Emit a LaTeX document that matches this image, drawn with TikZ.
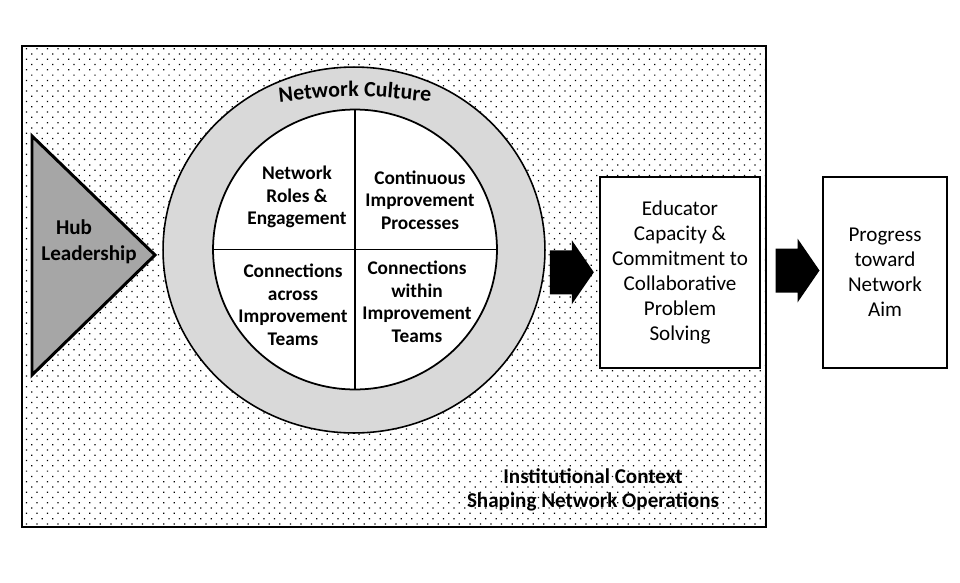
\documentclass[tikz,border=0pt]{standalone}
\usepackage{fontspec}
\setmainfont{Carlito}
\usepackage{xcolor}
\usepackage{tikz}
\usetikzlibrary{shapes.geometric,patterns.meta,decorations.text,calc}
\definecolor{hubgray}{HTML}{A6A6A6}
\definecolor{ringgray}{HTML}{D9D9D9}

\begin{document}
\begin{tikzpicture}[x=.02cm,y=-.02cm,font=\fontsize{12}{14.2}\selectfont,
    quad/.style={font=\fontsize{11}{12.8}\selectfont\bfseries,align=center},
    outcome/.style={draw,line width=1.5pt,fill=white,align=center,minimum height=3.82cm},
    blockarrow/.pic={\fill (-22,-22) -- (0,-22) -- (0,-32) -- (22,0) -- (0,32) -- (0,22) -- (-22,22) -- cycle;}]
      \useasboundingbox (0,0) rectangle (960,582);
      % institutional context
      \draw[line width=1.2pt,pattern={Dots[distance=4.25pt,angle=45,radius=.5pt]}] (22,46) rectangle (766,527);
      \node[font=\fontsize{12}{13.6}\selectfont\bfseries,align=center] (context) at (593,490) {Institutional Context\\Shaping Network Operations};
      % hub leadership
      \filldraw[fill=hubgray,line width=1.7pt] (32,136) -- (155,255) -- (32,375) -- cycle;
      \node[font=\fontsize{12}{15}\selectfont\bfseries,align=left] (hub) at (89,242) {\hspace*{.7em}Hub\\Leadership};
      % network culture
      \node[draw,ellipse,fill=ringgray,line width=.9pt,inner sep=0,outer sep=0,minimum width=7.64cm,minimum height=7.32cm] (culture) at (354,250) {};
      \node[draw,ellipse,fill=white,line width=1pt,inner sep=0,outer sep=0,minimum width=5.68cm,minimum height=5.6cm] (core) at (355,249.5) {};
      \draw[line width=1.1pt] (core.north) -- (core.south) (core.west) -- (core.east);
      \path[decorate,decoration={text along path,text align=center,text={|\fontsize{12.5}{15}\selectfont\bfseries|Network Culture}}] (270,103) .. controls (355,94) .. (440,103);
      \node[quad] (roles) at (297,197) {Network\\Roles \&\\Engagement};
      \node[quad] (process) at (420,200) {Continuous\\Improvement\\Processes};
      \node[quad] (across) at (293,305) {Connections\\across\\Improvement\\Teams};
      \node[quad] (within) at (417,302) {Connections\\within\\Improvement\\Teams};
      % outcomes
      \node[outcome,minimum width=3.2cm] (capacity) at (680,272.5) {Educator\\Capacity \&\\Commitment to\\Collaborative\\Problem\\Solving};
      \node[outcome,minimum width=2.48cm] (progress) at (885,272.5) {Progress\\toward\\Network\\Aim};
      \pic at ($(culture.east)!.5!(capacity.west)+(0,11)$) {blockarrow};
      \pic at ($(capacity.east)!.5!(progress.west)+(6,-2)$) {blockarrow};
    \end{tikzpicture}
\end{document}
